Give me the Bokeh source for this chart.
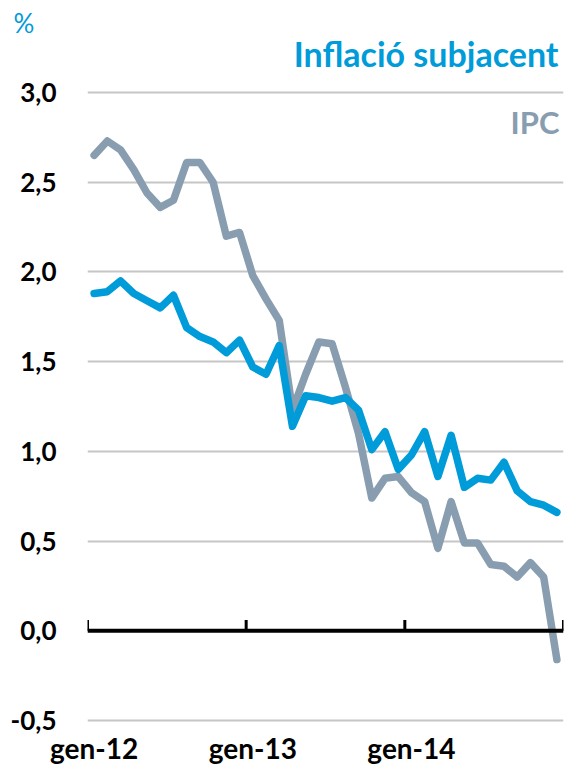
from bokeh.plotting import figure
from bokeh.models import Range1d, FixedTicker, Span, Label, Title, ColumnDataSource
from bokeh.embed import file_html
from bokeh.resources import INLINE

mesos = ["gen", "feb", "mar", "abr", "mai", "jun", "jul", "ago", "set", "oct", "nov", "des"]
months = [f"{m}-{y}" for y in ("12", "13", "14") for m in mesos]

ipc = [2.65, 2.73, 2.68, 2.57, 2.44, 2.36, 2.40, 2.61, 2.61, 2.50, 2.20, 2.22,
       1.98, 1.85, 1.73, 1.23, 1.43, 1.61, 1.60, 1.36, 1.10, 0.74, 0.85, 0.86,
       0.77, 0.72, 0.46, 0.72, 0.49, 0.49, 0.37, 0.36, 0.30, 0.38, 0.30, -0.16]
subjacent = [1.88, 1.89, 1.95, 1.88, 1.84, 1.80, 1.87, 1.69, 1.64, 1.61, 1.55, 1.62,
             1.47, 1.43, 1.59, 1.14, 1.31, 1.30, 1.28, 1.30, 1.23, 1.01, 1.11, 0.90,
             0.98, 1.11, 0.86, 1.09, 0.80, 0.85, 0.84, 0.94, 0.78, 0.72, 0.70, 0.66]

y_ticks = [-0.5, 0.0, 0.5, 1.0, 1.5, 2.0, 2.5, 3.0]
y_labels = ["-0,5", "0,0", "0,5", "1,0", "1,5", "2,0", "2,5", "3,0"]
x_tick_labels = ["gen-12", "gen-13", "gen-14"]

BLUE = "#009bd9"
GRAY = "#889db0"
FONT = "Lato"

x = list(range(len(months)))
x_tick_pos = [months.index(lbl) for lbl in x_tick_labels]
year_bounds = [i - 0.5 for i in x_tick_pos] + [len(months) - 0.5]

src = ColumnDataSource(dict(x=x, ipc=ipc, sub=subjacent))

p = figure(width=566, height=768, output_backend="svg", toolbar_location=None,
           x_range=Range1d(-0.5, len(months) - 0.5), y_range=Range1d(-0.522, 3.29),
           min_border_left=87, min_border_right=3, min_border_top=40, min_border_bottom=44)
p.outline_line_color = None
p.background_fill_color = "white"
p.border_fill_color = "white"

# grid
p.xgrid.grid_line_color = None
p.ygrid.ticker = FixedTicker(ticks=y_ticks)
p.ygrid.grid_line_color = "#c6c6c6"
p.ygrid.grid_line_width = 2

# y axis
p.yaxis.ticker = FixedTicker(ticks=y_ticks)
p.yaxis.major_label_overrides = {t: l for t, l in zip(y_ticks, y_labels)}
p.yaxis.axis_line_color = None
p.yaxis.major_tick_line_color = None
p.yaxis.minor_tick_line_color = None
p.yaxis.major_tick_out = 0
p.yaxis.major_tick_in = 0
p.yaxis.minor_tick_out = 0
p.yaxis.major_label_standoff = 31
p.yaxis.major_label_text_font = FONT
p.yaxis.major_label_text_font_style = "bold"
p.yaxis.major_label_text_font_size = "26px"
p.yaxis.major_label_text_color = "black"

# x axis (labels only)
p.xaxis.ticker = FixedTicker(ticks=x_tick_pos)
p.xaxis.major_label_overrides = {t: l for t, l in zip(x_tick_pos, x_tick_labels)}
p.xaxis.axis_line_color = None
p.xaxis.major_tick_line_color = None
p.xaxis.minor_tick_line_color = None
p.xaxis.major_tick_out = 0
p.xaxis.major_tick_in = 0
p.xaxis.minor_tick_out = 0
p.xaxis.major_label_standoff = 6
p.xaxis.major_label_text_font = FONT
p.xaxis.major_label_text_font_style = "bold"
p.xaxis.major_label_text_font_size = "28px"
p.xaxis.major_label_text_color = "black"

# series
p.line("x", "ipc", source=src, line_color=GRAY, line_width=7.5, line_join="round", line_cap="round")
p.line("x", "sub", source=src, line_color=BLUE, line_width=7.5, line_join="round", line_cap="round")

# zero axis line with year tick marks
p.segment(x0=year_bounds, x1=year_bounds, y0=[0] * len(year_bounds), y1=[0.06] * len(year_bounds),
          line_color="black", line_width=3)
p.add_layout(Span(location=0, dimension="width", line_color="black", line_width=4))

# texts
p.add_layout(Title(text="%", text_color=BLUE, text_font=FONT, text_font_style="normal",
                   text_font_size="26px", align="left", offset=-74, standoff=4), "above")
p.add_layout(Label(x=len(months) - 0.5, y=3.215, x_offset=-5, text="Inflació subjacent",
                   text_color=BLUE, text_font=FONT, text_font_style="bold", text_font_size="34px",
                   text_baseline="middle", text_align="right"))
p.add_layout(Label(x=len(months) - 0.5, y=2.836, x_offset=-4, text="IPC", text_color=GRAY,
                   text_font=FONT, text_font_style="bold", text_font_size="31px",
                   text_baseline="middle", text_align="right"))

open("out.html", "w").write(file_html(p, INLINE))
